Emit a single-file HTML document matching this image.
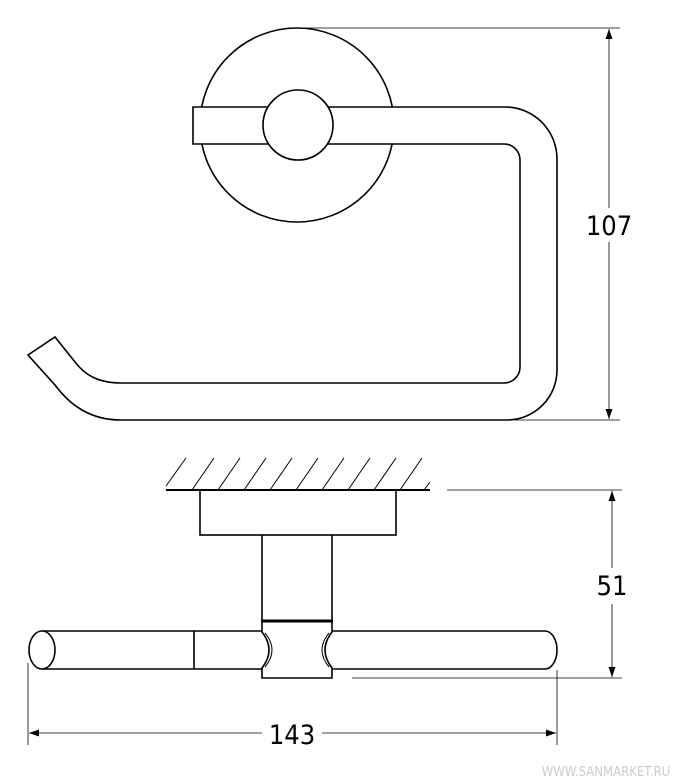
<!DOCTYPE html>
<html><head><meta charset="utf-8"><style>
html,body{margin:0;padding:0;background:#fff;}
svg{display:block;}
text{font-family:"DejaVu Sans Condensed","Liberation Sans Narrow","Liberation Sans",sans-serif;}
</style></head><body>
<svg width="684" height="784" viewBox="0 0 684 784" xmlns="http://www.w3.org/2000/svg">
<defs>
<marker id="a" viewBox="0 0 10 10" refX="10" refY="5" markerWidth="10" markerHeight="12" markerUnits="userSpaceOnUse" orient="auto-start-reverse"><path d="M0,1.5 L10,5 L0,8.5 Z" fill="#000"/></marker>
</defs>
<g fill="none" stroke="#000" stroke-width="1.6">
<!-- top view -->
<circle cx="297" cy="125" r="97" fill="#fff"/>
<path d="M193,107 H505 A52,52 0 0 1 557,159 V370 A50,50 0 0 1 507,420 H121 C90,420 70,405 55,385 L28,355 L55,337 L75,362 C85,375 98,383 121,383 H504 A16,16 0 0 0 520,367 V160 A16,16 0 0 0 504,144 H193 Z" fill="#fff"/>
<circle cx="298" cy="125" r="35" fill="#fff"/>
</g>
<g stroke="#000" stroke-width="0.8" fill="none">
<line x1="300" y1="28" x2="620" y2="28"/>
<line x1="515" y1="420" x2="620" y2="420"/>
<line x1="609" y1="29" x2="609" y2="208" marker-start="url(#a)"/>
<line x1="609" y1="242" x2="609" y2="419" marker-end="url(#a)"/>
</g>
<text x="609" y="235" font-size="27" text-anchor="middle">107</text>

<!-- bottom view -->
<g stroke="#000" stroke-width="1" fill="none">
<line x1="166" y1="490" x2="430" y2="490" stroke-width="2"/>
<path d="M166,486 L186,458 M192,490 L214,458 M218,490 L240,458 M244,490 L266,458 M270,490 L292,458 M296,490 L318,458 M322,490 L344,458 M348,490 L370,458 M374,490 L396,458 M400,490 L422,458 M424,490 L430,482"/>
</g>
<g stroke="#000" stroke-width="1.6" fill="none">
<rect x="200" y="490" width="196" height="45"/>
<line x1="262" y1="535" x2="262" y2="621"/>
<line x1="332" y1="535" x2="332" y2="621"/>
<line x1="261" y1="621" x2="333" y2="621" stroke-width="3"/>
<path d="M262,621 V632 Q276,650 262,668 V678 H332 V668 Q318,650 332,632 V621"/>
<path d="M265,633 Q279,650 265,667 M329,633 Q315,650 329,667" stroke-width="1"/>
<path d="M42,631 H262 M42,669 H262"/>
<line x1="194" y1="631" x2="194" y2="669"/>
<ellipse cx="42" cy="650" rx="13" ry="19" fill="#fff"/>
<path d="M332,631 H545 A12,19 0 0 1 545,669 H332"/>
</g>
<g stroke="#000" stroke-width="0.8" fill="none">
<line x1="447" y1="490" x2="622" y2="490"/>
<line x1="352" y1="678" x2="622" y2="678"/>
<line x1="612" y1="491" x2="612" y2="568" marker-start="url(#a)"/>
<line x1="612" y1="604" x2="612" y2="677" marker-end="url(#a)"/>
<line x1="28" y1="663" x2="28" y2="745"/>
<line x1="557" y1="670" x2="557" y2="745"/>
<line x1="29" y1="733" x2="262" y2="733" marker-start="url(#a)"/>
<line x1="322" y1="733" x2="556" y2="733" marker-end="url(#a)"/>
</g>
<text x="612" y="595" font-size="27" text-anchor="middle">51</text>
<text x="292" y="744" font-size="27" text-anchor="middle">143</text>
<text x="606" y="776" font-size="13" fill="#ccc" text-anchor="middle">WWW.SANMARKET.RU</text>
</svg>
</body></html>
